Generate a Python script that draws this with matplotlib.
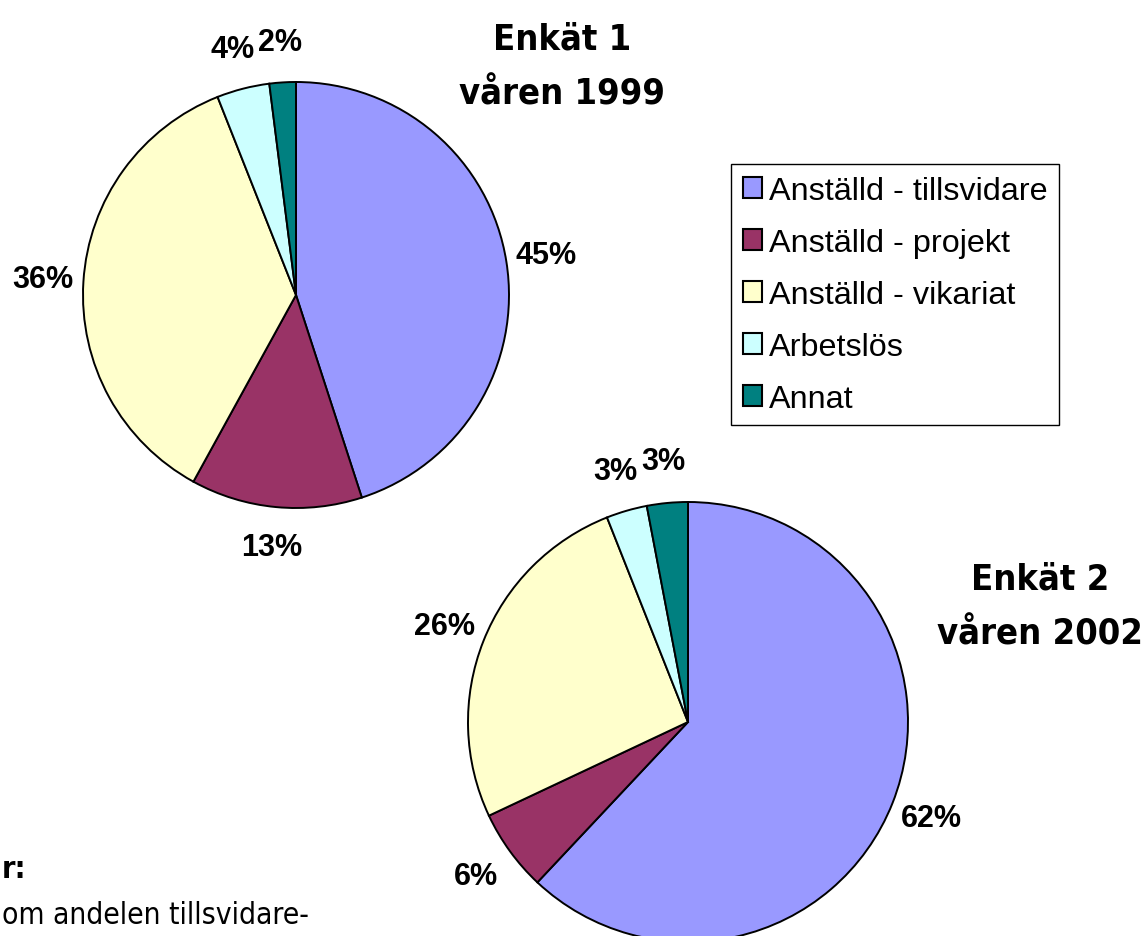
# Two pie charts comparing employment status, survey 1 (1999) and survey 2 (2002)
import matplotlib
matplotlib.use("Agg")
import matplotlib.pyplot as plt
from matplotlib import font_manager

# Data
categories = [
    "Anställd - tillsvidare",
    "Anställd - projekt",
    "Anställd - vikariat",
    "Arbetslös",
    "Annat",
]
values_1999 = [45, 13, 36, 4, 2]
values_2002 = [62, 6, 26, 3, 3]
titles = ["Enkät 1\nvåren 1999", "Enkät 2\nvåren 2002"]
note_heading = "r:"
note_text = "om andelen tillsvidare-"

colors = ["#9999FF", "#993366", "#FFFFCC", "#CCFFFF", "#008080"]

STRETCH = {"ultra-condensed": 100, "extra-condensed": 200, "condensed": 300,
           "semi-condensed": 400, "normal": 500}


# Look for a narrow face among the installed fonts
def find_condensed(bold, wanted):
    found = []
    for f in font_manager.fontManager.ttflist:
        st = f.stretch if isinstance(f.stretch, int) else STRETCH.get(str(f.stretch).lower(), 500)
        if "narrow" in f.name.lower() or "condensed" in f.name.lower():
            st = min(st, 300)
        if st >= 500 or f.style != "normal":
            continue
        w = f.weight if isinstance(f.weight, int) else (700 if "bold" in str(f.weight) else 400)
        if bold and w < 600:
            continue
        if not bold and w > 500:
            continue
        found.append((abs(st - wanted), abs(w - (700 if bold else 400)), f.fname))
    if found:
        found.sort()
        return font_manager.FontProperties(fname=found[0][2])
    return None


title_font = find_condensed(True, 200)
note_bold = find_condensed(True, 300)
note_font = find_condensed(False, 300)
if title_font is None:
    title_font = font_manager.FontProperties(family="Liberation Sans", weight="bold")
    note_bold = title_font
    note_font = font_manager.FontProperties(family="Liberation Sans")

W, H = 1143, 937
fig = plt.figure(figsize=(W / 100, H / 100), dpi=100)


def pie_axes(cx, cy, r, lim=1.3):
    # Axes placed so that radius 1 is r pixels, centred at (cx, cy) in image pixels
    half = lim * r
    ax = fig.add_axes([(cx - half) / W, (H - cy - half) / H, 2 * half / W, 2 * half / H])
    return ax


def draw_pie(ax, values):
    wedges, texts, autotexts = ax.pie(
        values,
        colors=colors,
        startangle=90,
        counterclock=False,
        autopct="%d%%",
        pctdistance=1.19,
        wedgeprops=dict(edgecolor="black", linewidth=1.4),
        textprops=dict(fontsize=22, fontweight="bold", family="Liberation Sans"),
    )
    ax.set_xlim(-1.3, 1.3)
    ax.set_ylim(-1.3, 1.3)
    ax.axis("off")
    return wedges


ax1 = pie_axes(296, 296, 213)
wedges = draw_pie(ax1, values_1999)

ax2 = pie_axes(688, 723, 220)
draw_pie(ax2, values_2002)

# Titles
title_font.set_size(26)
for txt, (x, y) in zip(titles, [(562, 67), (1040, 607)]):
    fig.text(x / W, 1 - y / H, txt, fontproperties=title_font,
             ha="center", va="center", linespacing=1.75)

# Legend
leg = fig.legend(
    wedges,
    categories,
    loc="upper left",
    bbox_to_anchor=(731 / W, 1 - 165 / H),
    borderaxespad=0,
    fancybox=False,
    shadow=False,
    edgecolor="black",
    framealpha=1,
    prop=dict(family="Liberation Sans", size=23.3),
    handlelength=0.6,
    handleheight=0.6,
    handletextpad=0.2,
    labelspacing=0.68,
    borderpad=0.36,
)
leg.get_frame().set_linewidth(1.0)
for h in leg.legend_handles:
    h.set_linewidth(1.5)

# Note in the bottom-left corner
note_bold.set_size(22)
note_font.set_size(21.5)
fig.text(2 / W, 1 - 870 / H, note_heading, fontproperties=note_bold,
         ha="left", va="center")
fig.text(2 / W, 1 - 916 / H, note_text, fontproperties=note_font,
         ha="left", va="center")

fig.savefig("out.png", dpi=100)
